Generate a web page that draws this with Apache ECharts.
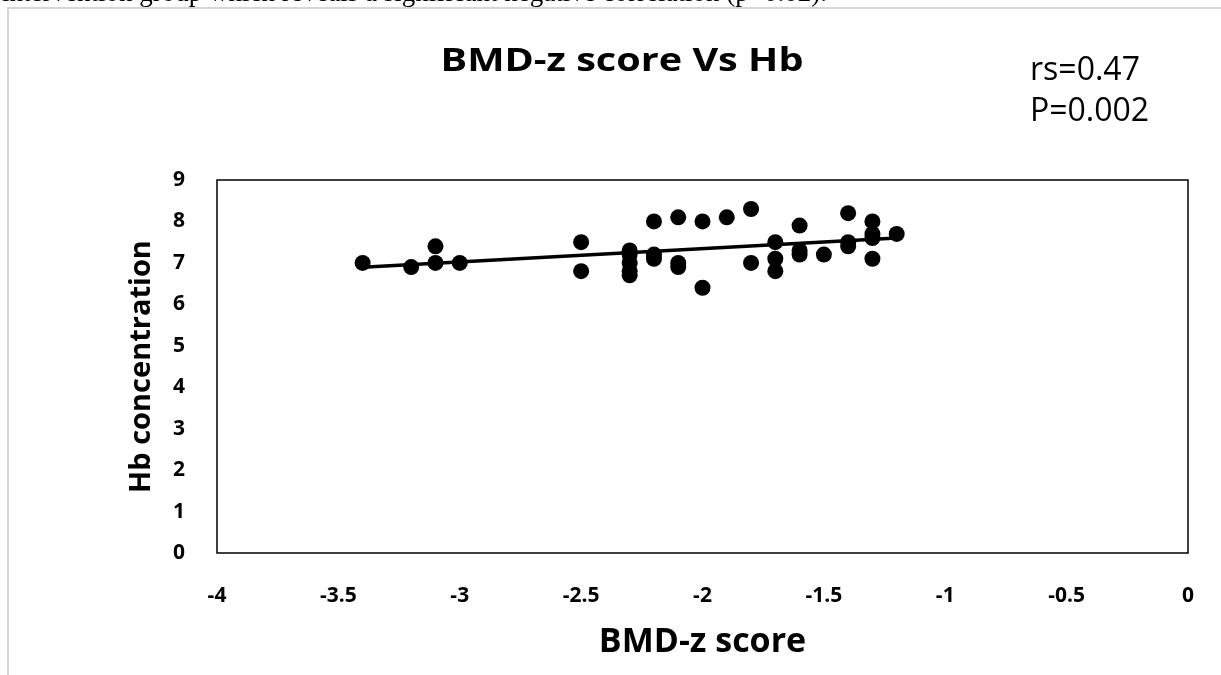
<!DOCTYPE html>
<html>
<head>
<meta charset="utf-8">
<script src="https://cdn.jsdelivr.net/npm/echarts@6/dist/echarts.min.js"></script>
<style>
html,body{margin:0;padding:0;background:#fff;}
#main{width:1221px;height:675px;}
</style>
</head>
<body>
<div id="main"></div>
<script>
// BMD-z score (x) vs Hb concentration (y)
var bmdZ = [-3.4,-3.2,-3.1,-3.1,-3.0,-2.5,-2.5,-2.3,-2.3,-2.3,-2.3,-2.3,-2.2,-2.2,-2.2,-2.1,-2.1,-2.1,-2.0,-2.0,-1.9,-1.8,-1.8,-1.7,-1.7,-1.7,-1.6,-1.6,-1.6,-1.5,-1.4,-1.4,-1.4,-1.3,-1.3,-1.3,-1.3,-1.2];
var hb   = [7.0, 6.9, 7.4, 7.0, 7.0, 7.5, 6.8, 7.3, 7.2, 7.0, 6.8, 6.7, 8.0, 7.2, 7.1, 8.1, 7.0, 6.9, 8.0, 6.4, 8.1, 8.3, 7.0, 7.5, 7.1, 6.8, 7.9, 7.3, 7.2, 7.2, 8.2, 7.5, 7.4, 8.0, 7.7, 7.6, 7.1, 7.7];
var xTicks = [-4,-3.5,-3,-2.5,-2,-1.5,-1,-0.5,0];
var yTicks = [0,1,2,3,4,5,6,7,8,9];
var titleText = 'BMD-z score Vs Hb';
var statsText = ['rs=0.47','P=0.002'];
var xName = 'BMD-z score';
var yName = 'Hb concentration';
var captionText = 'intervention group which reveals a significant negative correlation (p=0.02).';

// least-squares trend line over the data range
var n = bmdZ.length, sx=0, sy=0, sxx=0, sxy=0;
for (var i=0;i<n;i++){sx+=bmdZ[i];sy+=hb[i];sxx+=bmdZ[i]*bmdZ[i];sxy+=bmdZ[i]*hb[i];}
var slope=(n*sxy-sx*sy)/(n*sxx-sx*sx), icpt=(sy-slope*sx)/n;
var xmin=Math.min.apply(null,bmdZ), xmax=Math.max.apply(null,bmdZ);
var trend=[[xmin,icpt+slope*xmin],[xmax,icpt+slope*xmax]];

var pts = bmdZ.map(function(x,i){return [x,hb[i]];});
var font = '"Open Sans", "Noto Sans", sans-serif';

var chart = echarts.init(document.getElementById('main'), null, {renderer:'canvas'});
chart.setOption({
  backgroundColor:'#fff',
  animation:false,
  graphic:[
    {type:'rect', shape:{x:8,y:8,width:1230,height:700}, style:{fill:'none',stroke:'#d6d6d6',lineWidth:2}, silent:true},
    {type:'text', x:2, y:-20, style:{text:captionText, font:'27px "Liberation Serif", serif', fill:'#000'}, z:-1},
    {type:'text', x:622, y:45, scaleX:1.2, originX:0, originY:0, style:{text:titleText, font:'bold 33px '+font, fill:'#000', textAlign:'center'}},
    {type:'text', x:1030, y:50, style:{text:statsText.join('\n'), font:'32px '+font, fill:'#000', lineHeight:41}}
  ],
  grid:{left:217, right:33, top:180, bottom:122, containLabel:false, show:true, borderColor:'#000', borderWidth:1.5, backgroundColor:'transparent'},
  xAxis:{
    type:'value', min:-4, max:0, interval:0.5,
    name:xName, nameLocation:'middle', nameGap:72,
    nameTextStyle:{fontFamily:font, fontWeight:'bold', fontSize:34, color:'#000'},
    axisLine:{show:false}, axisTick:{show:false}, splitLine:{show:false},
    axisLabel:{margin:33, fontFamily:font, fontWeight:'bold', fontSize:21, color:'#000',
      formatter:function(v){return String(v);}}
  },
  yAxis:{
    type:'value', min:0, max:9, interval:1,
    name:yName, nameLocation:'middle', nameGap:61, nameRotate:90,
    nameTextStyle:{fontFamily:font, fontWeight:'bold', fontSize:29, color:'#000'},
    axisLine:{show:false}, axisTick:{show:false}, splitLine:{show:false},
    axisLabel:{margin:32, fontFamily:font, fontWeight:'bold', fontSize:21, color:'#000'}
  },
  series:[
    {type:'scatter', data:pts, symbol:'circle', symbolSize:16, itemStyle:{color:'#000', opacity:1}, z:3},
    {type:'line', data:trend, symbol:'none', lineStyle:{color:'#000', width:3.5}, z:2}
  ]
});
</script>
</body>
</html>
